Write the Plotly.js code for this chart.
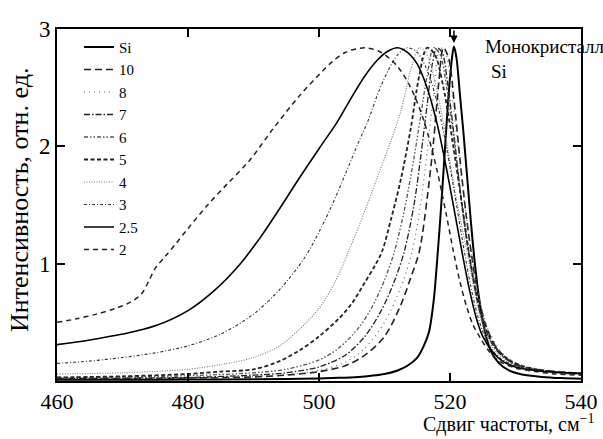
<!DOCTYPE html>
<html>
<head>
<meta charset="utf-8">
<script src="https://cdn.plot.ly/plotly-3.0.1.min.js"></script>
<style>html,body{margin:0;padding:0;background:#fff}#chart{width:603px;height:439px}</style>
</head>
<body>
<div id="chart"></div>
<script>
// Legend labels (in legend order)
const seriesNames = ["Si", "10", "8", "7", "6", "5", "4", "3", "2.5", "2"];

// Raman shift (cm^-1) and intensity (a.u.) for each curve
const xSi = [460,470,480,490,495,500,503,506,508,510,512,513.5,515,516,516.8,517.5,518,518.6,519.2,519.8,520.3,520.6,521,521.5,522,522.6,523.2,523.8,524.5,525.3,526.2,527.5,529,531,534,537,540];
const ySi = [0.01,0.01,0.012,0.015,0.018,0.022,0.027,0.035,0.045,0.06,0.09,0.13,0.2,0.3,0.42,0.68,1.0,1.45,1.95,2.45,2.75,2.85,2.75,2.45,2.15,1.75,1.35,1.0,0.68,0.43,0.26,0.15,0.09,0.055,0.035,0.025,0.02];

const x10 = [460,470,480,490,495,500,504,507,510,512.5,514,515.3,516.5,517.5,518.3,519,519.8,520.6,521.5,522.5,523.5,524.5,525.5,527,528.5,530,533,536,540];
const y10 = [0.02,0.02,0.025,0.035,0.05,0.08,0.13,0.22,0.38,0.65,0.88,1.1,1.55,2.05,2.55,2.84,2.75,2.4,1.9,1.4,1.0,0.68,0.47,0.29,0.2,0.14,0.1,0.08,0.065];

const x8 = [460,470,480,490,495,500,504,507,510,512.5,514.2,515.5,516.5,517.5,518.5,519.3,520.2,521,522,523,524,525,526,527.5,529,531,534,537,540];
const y8 = [0.02,0.02,0.025,0.04,0.055,0.09,0.16,0.28,0.5,0.8,1.1,1.5,1.95,2.45,2.84,2.8,2.5,2.1,1.62,1.2,0.85,0.58,0.42,0.27,0.19,0.13,0.1,0.08,0.065];

const x7 = [460,470,480,490,495,500,504,507,509.5,511.5,513,514.5,515.5,516.5,517.3,518,518.8,519.6,520.5,521.5,522.5,523.5,524.5,525.5,527,528.5,530,533,536,540];
const y7 = [0.02,0.025,0.03,0.05,0.07,0.12,0.22,0.38,0.6,0.85,1.1,1.5,1.9,2.35,2.7,2.84,2.8,2.55,2.15,1.65,1.22,0.88,0.6,0.42,0.27,0.19,0.14,0.1,0.08,0.065];

const x6 = [460,470,480,490,495,500,503,506,508,510,511.5,513,514.5,515.5,516.5,517.5,518.5,519.5,520.5,521.5,522.5,523.5,524.5,525.5,527,528.5,530,533,536,540];
const y6 = [0.03,0.035,0.045,0.07,0.1,0.18,0.28,0.45,0.62,0.86,1.1,1.45,1.9,2.25,2.6,2.84,2.78,2.5,2.1,1.65,1.25,0.9,0.62,0.43,0.27,0.19,0.14,0.1,0.08,0.065];

const x5 = [460,470,480,485,490,494,497,500,503,505,507,508.5,509.6,511,512.5,514,515.3,516.5,517.7,519,520.5,521.7,522.8,523.8,524.8,526,527.5,529,531,534,537,540];
const y5 = [0.03,0.04,0.06,0.08,0.1,0.17,0.26,0.38,0.53,0.66,0.84,0.98,1.1,1.38,1.72,2.15,2.6,2.84,2.78,2.5,2.0,1.55,1.12,0.8,0.56,0.38,0.25,0.18,0.13,0.09,0.07,0.06];

const x4 = [460,470,480,485,490,494,497,500,502.5,504.5,507,509,511,512.5,514,515.3,516.3,517.5,519,520.5,521.5,522.6,523.6,524.6,525.6,527,528.5,530,533,536,540];
const y4 = [0.06,0.07,0.1,0.14,0.2,0.3,0.44,0.62,0.85,1.1,1.45,1.75,2.05,2.3,2.65,2.84,2.8,2.6,2.2,1.7,1.4,1.1,0.8,0.55,0.38,0.25,0.17,0.13,0.09,0.07,0.06];

const x3 = [460,465,470,475,480,485,490,494,497.8,500,502,504,506,507.5,509,510.5,512,513.5,515,516.5,518,519.5,521,522.2,523.2,524.2,525.3,526.5,528,530,533,536,540];
const y3 = [0.15,0.17,0.2,0.24,0.3,0.4,0.57,0.78,1.05,1.27,1.5,1.76,2.03,2.22,2.45,2.64,2.78,2.84,2.8,2.65,2.38,1.98,1.5,1.1,0.8,0.56,0.38,0.26,0.18,0.13,0.09,0.07,0.06];

const x25 = [460,465,470,475,480,484,488,491,494,497,500,502.7,505,507,509,510.5,512,513.5,515,516.5,518,519.5,521,522,523,524,525,526.5,528,530,533,536,540];
const y25 = [0.31,0.35,0.4,0.47,0.6,0.77,1.0,1.22,1.47,1.73,1.98,2.2,2.42,2.6,2.74,2.81,2.84,2.8,2.7,2.5,2.2,1.8,1.35,1.05,0.77,0.54,0.38,0.25,0.17,0.12,0.09,0.075,0.065];

const x2 = [460,463,466,469,471.5,473,474,475,476.5,478,480,483,486,489.4,493,497,500,502,504,507,509.5,512,514,516,518,519.5,520.5,521.5,522.5,523.5,524.6,526,527.5,530,533,536,540];
const y2 = [0.5,0.53,0.57,0.62,0.68,0.75,0.85,0.96,1.06,1.16,1.3,1.5,1.68,1.88,2.15,2.43,2.61,2.72,2.8,2.84,2.8,2.68,2.5,2.22,1.8,1.4,1.11,0.85,0.64,0.48,0.37,0.25,0.17,0.11,0.08,0.06,0.05];

// Axis ticks
const xTicks = [460, 480, 500, 520, 540];
const yTicks = [1, 2, 3];

const xs = [xSi, x10, x8, x7, x6, x5, x4, x3, x25, x2];
const ys = [ySi, y10, y8, y7, y6, y5, y4, y3, y25, y2];
const styles = [
  {color:"#000", width:2, dash:"solid"},
  {color:"#222", width:1.6, dash:"7px,4px"},
  {color:"#666", width:1.2, dash:"1px,4px"},
  {color:"#222", width:1.3, dash:"6px,2px,1.5px,2px"},
  {color:"#555", width:1.3, dash:"4px,2px,1.5px,2px,1.5px,2px"},
  {color:"#222", width:1.8, dash:"4px,2.5px"},
  {color:"#777", width:1.1, dash:"1px,1.5px"},
  {color:"#333", width:1.1, dash:"3px,2px,1px,2px"},
  {color:"#000", width:1.6, dash:"solid"},
  {color:"#222", width:1.5, dash:"5px,4px"}
];

const serif = 'Liberation Serif';
const traces = seriesNames.map((n, i) => ({
  x: xs[i], y: ys[i], name: n, type: "scatter", mode: "lines",
  line: {color: styles[i].color, width: styles[i].width, dash: styles[i].dash, shape: "spline", smoothing: 0.9}
}));

const layout = {
  width: 603, height: 439,
  margin: {l: 57, r: 22, t: 29, b: 58},
  paper_bgcolor: "#fff", plot_bgcolor: "#fff",
  font: {family: serif, color: "#000"},
  showlegend: true,
  legend: {x: 0.042, y: 0.995, xanchor: "left", yanchor: "top", bgcolor: "rgba(0,0,0,0)",
           font: {family: serif, size: 15, color: "#000"}, tracegroupgap: 0},
  xaxis: {range: [460, 540], tickvals: xTicks, ticktext: xTicks.map(String),
          showline: true, linewidth: 2, linecolor: "#000", mirror: "ticks",
          ticks: "inside", ticklen: 8, tickwidth: 2, tickcolor: "#000",
          showgrid: false, zeroline: false, tickfont: {family: serif, size: 22}},
  yaxis: {range: [0, 3], tickvals: yTicks, ticktext: yTicks.map(String),
          showline: true, linewidth: 2, linecolor: "#000", mirror: "ticks",
          ticks: "inside", ticklen: 8, tickwidth: 2, tickcolor: "#000",
          showgrid: false, zeroline: false, tickfont: {family: serif, size: 23}},
  annotations: [
    {x: 520.6, y: 2.88, ax: 520.6, ay: 3.0, axref: "x", ayref: "y", xref: "x", yref: "y",
     text: "", showarrow: true, arrowhead: 2, arrowsize: 1, arrowwidth: 1.5, arrowcolor: "#000"},
    {x: 525.0, y: 2.85, xref: "x", yref: "y", xanchor: "left", yanchor: "middle",
     text: "Монокристалл", showarrow: false, font: {family: serif, size: 19}},
    {x: 526.0, y: 2.64, xref: "x", yref: "y", xanchor: "left", yanchor: "middle",
     text: "Si", showarrow: false, font: {family: serif, size: 19}},
    {x: 1.03, y: -0.163, xref: "paper", yref: "paper", xanchor: "right", yanchor: "bottom",
     text: "Сдвиг частоты, см<sup>−1</sup>", showarrow: false, font: {family: serif, size: 20}},
    {x: -0.072, y: 0.515, xref: "paper", yref: "paper", xanchor: "center", yanchor: "middle",
     textangle: -90, text: "Интенсивность, отн. ед.", showarrow: false, font: {family: serif, size: 26}}
  ]
};

Plotly.newPlot("chart", traces, layout, {displayModeBar: false, staticPlot: true});
</script>
</body>
</html>
